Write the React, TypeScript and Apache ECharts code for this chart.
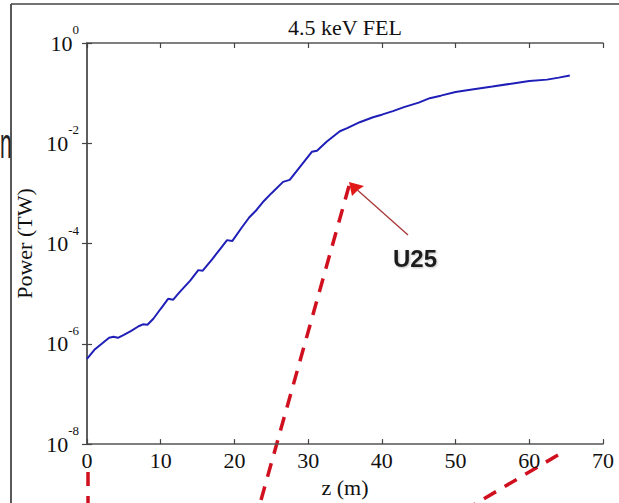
import React, { useEffect, useRef } from "react";
import * as echarts from "echarts";

const zValues = [0, 1, 2, 3, 3.6, 4.2, 5, 6, 7, 7.6, 8.2, 9, 10, 11, 11.7, 12.5, 14, 15.1, 15.7, 17, 18, 19, 19.7, 21, 22, 23, 24, 25, 26.6, 27.5, 29, 30.5, 31.2, 32.5, 34.3, 35.3, 37, 38.8, 40, 41.5, 43, 45, 46.5, 48, 50, 52, 55, 58, 60, 62.4, 64, 65.5];
const powerValues = [5.0e-7, 7.6e-7, 1.0e-6, 1.32e-6, 1.38e-6, 1.32e-6, 1.51e-6, 1.82e-6, 2.24e-6, 2.45e-6, 2.4e-6, 3.16e-6, 5.0e-6, 7.9e-6, 7.6e-6, 1.05e-5, 1.82e-5, 2.95e-5, 2.88e-5, 4.9e-5, 7.6e-5, 1.17e-4, 1.12e-4, 2.09e-4, 3.31e-4, 4.68e-4, 7.08e-4, 1.0e-3, 1.7e-3, 1.86e-3, 3.55e-3, 6.76e-3, 7.08e-3, 1.07e-2, 1.74e-2, 2.0e-2, 2.63e-2, 3.31e-2, 3.72e-2, 4.37e-2, 5.25e-2, 6.46e-2, 7.94e-2, 8.91e-2, 0.105, 0.117, 0.135, 0.158, 0.174, 0.186, 0.204, 0.224];

const xTicks = [0, 10, 20, 30, 40, 50, 60, 70];
const yExponents = [-8, -6, -4, -2, 0];

const titleText = "4.5 keV FEL";
const xName = "z (m)";
const yName = "Power (TW)";
const annotationText = "U25";

const SERIF = "'Liberation Serif', 'Times New Roman', serif";

export default function App() {
  const ref = useRef<HTMLDivElement>(null);
  useEffect(() => {
    if (!ref.current) return;
    const chart = echarts.init(ref.current, null, { renderer: "svg" });
    const axisLine = { show: true, lineStyle: { color: "#555", width: 1.5 } };
    const tick = { show: true, inside: true, length: 5, lineStyle: { color: "#444", width: 1.2 } };
    const option = {
      animation: false,
      backgroundColor: "#fff",
      title: {
        text: titleText,
        left: 340,
        top: 11,
        textAlign: "center",
        textStyle: { fontFamily: SERIF, fontSize: 22, fontWeight: "normal", color: "#111" },
      },
      grid: { left: 87, top: 43, right: 16, bottom: 55, containLabel: false },
      xAxis: [
        {
          type: "value",
          min: xTicks[0],
          max: xTicks[xTicks.length - 1],
          interval: 10,
          axisLine,
          axisTick: tick,
          splitLine: { show: false },
          axisLabel: { fontFamily: SERIF, fontSize: 22, color: "#111", margin: 5 },
          name: xName,
          nameLocation: "middle",
          nameGap: 31,
          nameTextStyle: { fontFamily: SERIF, fontSize: 22, color: "#111" },
        },
        {
          type: "value",
          position: "top",
          min: xTicks[0],
          max: xTicks[xTicks.length - 1],
          interval: 10,
          axisLine,
          axisTick: tick,
          splitLine: { show: false },
          axisLabel: { show: false },
        },
      ],
      yAxis: [
        {
          type: "log",
          logBase: 10,
          min: Math.pow(10, yExponents[0]),
          max: Math.pow(10, yExponents[yExponents.length - 1]),
          interval: 2,
          axisLine,
          axisTick: tick,
          splitLine: { show: false },
          axisLabel: {
            margin: 8,
            formatter: (v: number) => `{b|10}{e|${Math.round(Math.log10(v))}}`,
            rich: {
              b: { fontFamily: SERIF, fontSize: 22, lineHeight: 40, color: "#111" },
              e: { fontFamily: SERIF, fontSize: 13, lineHeight: 13, color: "#111", verticalAlign: "top" },
            },
          },
          name: yName,
          nameLocation: "middle",
          nameGap: 50,
          nameTextStyle: { fontFamily: SERIF, fontSize: 22, color: "#111" },
        },
        {
          type: "log",
          logBase: 10,
          position: "right",
          min: Math.pow(10, yExponents[0]),
          max: Math.pow(10, yExponents[yExponents.length - 1]),
          interval: 2,
          axisLine,
          axisTick: tick,
          splitLine: { show: false },
          axisLabel: { show: false },
        },
      ],
      series: [
        {
          type: "line",
          data: zValues.map((z, i) => [z, powerValues[i]]),
          showSymbol: false,
          symbol: "none",
          lineStyle: { color: "#1f1fb8", width: 2 },
          smooth: false,
        },
      ],
      graphic: [
        // outer slide frame
        { type: "line", shape: { x1: 11, y1: 4, x2: 11, y2: 510 }, style: { stroke: "#222", lineWidth: 1.5 } },
        { type: "line", shape: { x1: 11, y1: 4, x2: 625, y2: 4 }, style: { stroke: "#444", lineWidth: 1.5 } },
        // partial slide text on left edge
        { type: "text", x: 0, y: 122, scaleX: 0.5, style: { text: "n", font: "42px 'Liberation Sans', sans-serif", fill: "#222" } },
        // red dashed guide lines
        { type: "line", shape: { x1: 88, y1: 472, x2: 88, y2: 515 }, style: { stroke: "#d0101e", lineWidth: 3.5, lineDash: [14, 10] } },
        { type: "line", shape: { x1: 349, y1: 186, x2: 254, y2: 525 }, style: { stroke: "#d0101e", lineWidth: 3.5, lineDash: [14, 10] } },
        { type: "line", shape: { x1: 558, y1: 455, x2: 470, y2: 507 }, style: { stroke: "#d0101e", lineWidth: 3.5, lineDash: [14, 10] } },
        // arrow
        { type: "line", shape: { x1: 408, y1: 235, x2: 354, y2: 187 }, style: { stroke: "#a83838", lineWidth: 1.3 } },
        { type: "polygon", shape: { points: [[349, 182], [364, 186], [358, 190], [352, 196]] }, style: { fill: "#e01818" } },
        {
          type: "text",
          x: 415,
          y: 258,
          style: {
            text: annotationText,
            font: "bold 24px 'Liberation Sans', 'Open Sans', sans-serif",
            fill: "#1e1e1e",
            align: "center",
            verticalAlign: "middle",
            textShadowColor: "rgba(0,0,0,0.25)",
            textShadowBlur: 2,
            textShadowOffsetX: 1,
            textShadowOffsetY: 1,
          },
        },
      ],
    };
    chart.setOption(option as any);
    return () => chart.dispose();
  }, []);
  return (
    <div
      ref={ref}
      style={{ position: "fixed", left: 0, top: 0, width: 619, height: 503, background: "#fff" }}
    />
  );
}
